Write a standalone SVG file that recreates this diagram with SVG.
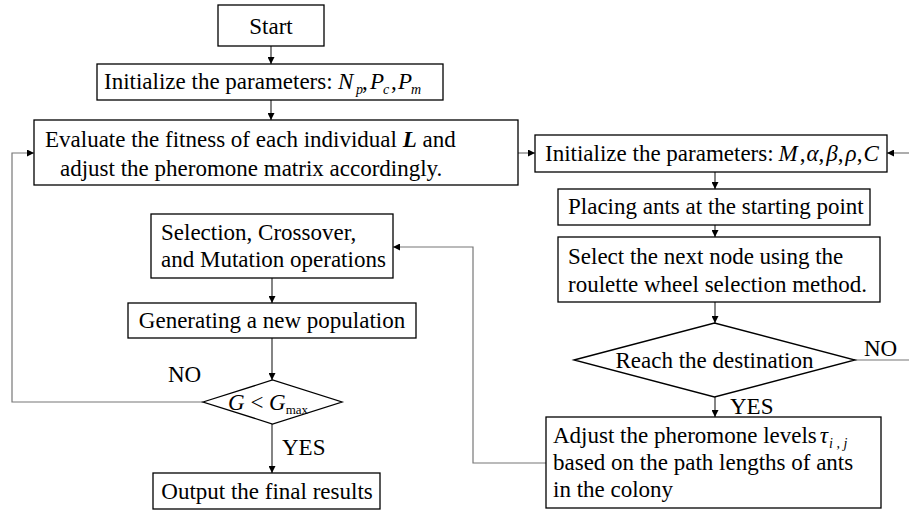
<svg xmlns="http://www.w3.org/2000/svg" width="909" height="510" viewBox="0 0 909 510">
<defs>
<marker id="arr" viewBox="0 0 10 10" refX="10" refY="5" markerWidth="7" markerHeight="7" markerUnits="userSpaceOnUse" orient="auto">
<path d="M0,0 L10,5 L0,10 z" fill="#000"/>
</marker>
<style>
.box{fill:#fff;stroke:#000;stroke-width:1.3}
.t{font-family:"Liberation Serif","Times New Roman",serif;font-size:23px;fill:#000}
.i{font-style:italic}
.b{font-weight:bold;font-style:italic}
.s{font-size:14px}
.c{fill:none;stroke:#333;stroke-width:1.2}
.cg{fill:none;stroke:#777;stroke-width:1.2}
</style>
</defs>
<rect width="909" height="510" fill="#fff"/>
<g id="connectors">
<line class="c" x1="271" y1="46" x2="271" y2="64" marker-end="url(#arr)"/>
<line class="c" x1="271" y1="100" x2="271" y2="120" marker-end="url(#arr)"/>
<line class="cg" x1="518" y1="153" x2="535" y2="153" marker-end="url(#arr)"/>
<line class="cg" x1="909" y1="153" x2="887" y2="153" marker-end="url(#arr)"/>
<line class="c" x1="715" y1="172" x2="715" y2="189" marker-end="url(#arr)"/>
<line class="c" x1="715" y1="225" x2="715" y2="237" marker-end="url(#arr)"/>
<line class="c" x1="715" y1="302" x2="715" y2="323" marker-end="url(#arr)"/>
<line class="cg" x1="855" y1="360" x2="909" y2="360"/>
<line class="c" x1="715" y1="397" x2="715" y2="417" marker-end="url(#arr)"/>
<polyline class="cg" points="546,463 473,463 473,247 393,247" marker-end="url(#arr)"/>
<line class="c" x1="272" y1="278" x2="272" y2="303" marker-end="url(#arr)"/>
<line class="c" x1="272" y1="338" x2="272" y2="380" marker-end="url(#arr)"/>
<polyline class="cg" points="203,402 12,402 12,153 34,153" marker-end="url(#arr)"/>
<line class="c" x1="272" y1="424" x2="272" y2="473" marker-end="url(#arr)"/>
<text class="t" x="168" y="382">NO</text>
<text class="t" x="282" y="455">YES</text>
<text class="t" x="864" y="356">NO</text>
<text class="t" x="730" y="414">YES</text>
</g>
<g id="start">
<rect class="box" x="218" y="5" width="106" height="41"/>
<text class="t" x="271" y="34" text-anchor="middle">Start</text>
</g>
<g id="init-ga">
<rect class="box" x="97" y="64" width="346" height="36"/>
<text class="t" x="104" y="89">Initialize the parameters:<tspan class="i" x="338">N</tspan><tspan class="i s" x="356" dy="5">p</tspan><tspan x="362" dy="-5">,</tspan><tspan class="i" x="370">P</tspan><tspan class="i s" x="383" dy="5">c</tspan><tspan x="391" dy="-5">,</tspan><tspan class="i" x="398">P</tspan><tspan class="i s" x="411" dy="5">m</tspan></text>
</g>
<g id="evaluate">
<rect class="box" x="34" y="120" width="484" height="65"/>
<text class="t" x="45" y="147">Evaluate the fitness of each individual <tspan class="b">L</tspan> and</text>
<text class="t" x="60" y="176">adjust the pheromone matrix accordingly.</text>
</g>
<g id="init-aco">
<rect class="box" x="535" y="135" width="352" height="37"/>
<text class="t" x="545" y="161">Initialize the parameters:<tspan class="i" dx="5">M</tspan><tspan dx="2">,</tspan><tspan class="i" dx="1">α</tspan>,<tspan class="i" dx="2">β</tspan>,<tspan class="i" dx="2">ρ</tspan>,<tspan class="i" dx="1">C</tspan></text>
</g>
<g id="placing">
<rect class="box" x="558" y="189" width="312" height="36"/>
<text class="t" x="568" y="214">Placing ants at the starting point</text>
</g>
<g id="select">
<rect class="box" x="558" y="237" width="322" height="65"/>
<text class="t" x="568" y="264">Select the next node using the</text>
<text class="t" x="568" y="292">roulette wheel selection method.</text>
</g>
<g id="reach">
<polygon class="box" points="574,360 714.5,323 855,360 714.5,397"/>
<text class="t" x="714.5" y="368" text-anchor="middle">Reach the destination</text>
</g>
<g id="adjust">
<rect class="box" x="546" y="417" width="335" height="91"/>
<text class="t" x="553" y="443">Adjust the pheromone levels<tspan class="i" dx="3">τ</tspan><tspan class="i s" dx="1" dy="5">i , j</tspan></text>
<text class="t" x="553" y="470">based on the path lengths of ants</text>
<text class="t" x="553" y="497">in the colony</text>
</g>
<g id="selection">
<rect class="box" x="151" y="214" width="242" height="64"/>
<text class="t" x="161" y="240">Selection, Crossover,</text>
<text class="t" x="161" y="267">and Mutation operations</text>
</g>
<g id="generating">
<rect class="box" x="128" y="303" width="288" height="35"/>
<text class="t" x="272" y="328" text-anchor="middle">Generating a new population</text>
</g>
<g id="check">
<polygon class="box" points="203,402 272.5,380 342,402 272.5,424"/>
<text class="t" x="228" y="410"><tspan class="i">G</tspan> &lt; <tspan class="i">G</tspan><tspan font-size="13" dy="4">max</tspan></text>
</g>
<g id="output">
<rect class="box" x="153" y="473" width="227" height="36"/>
<text class="t" x="267" y="499" text-anchor="middle">Output the final results</text>
</g>
</svg>
